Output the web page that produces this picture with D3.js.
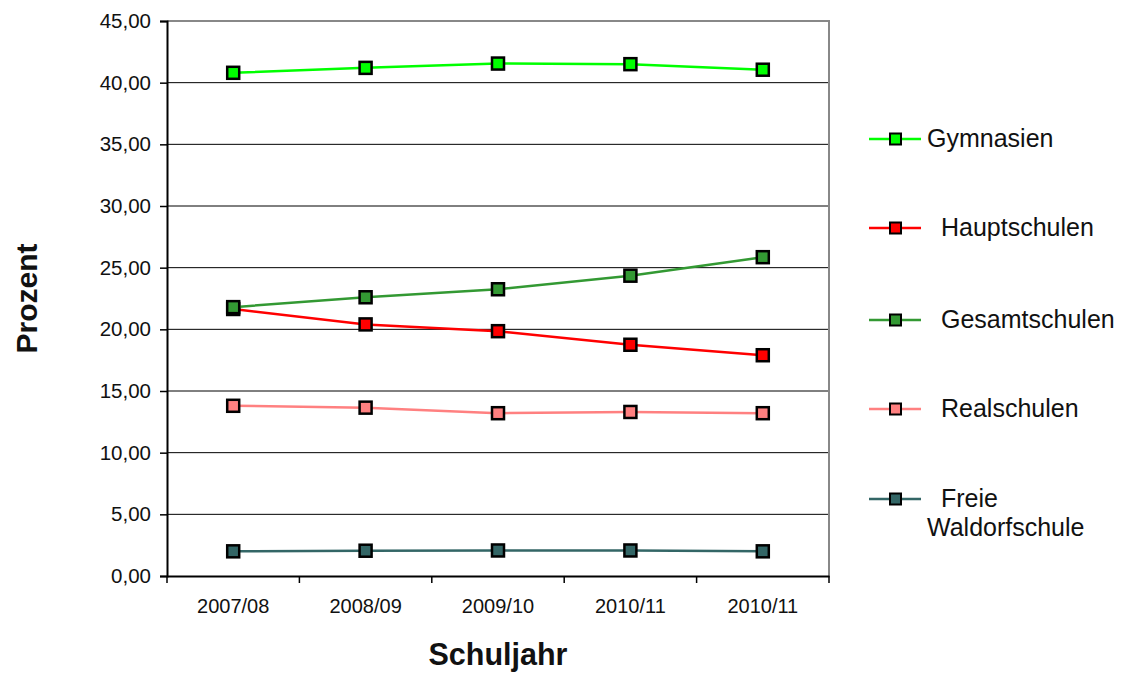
<!DOCTYPE html>
<html>
<head>
<meta charset="utf-8">
<script src="https://cdn.jsdelivr.net/npm/d3@7"></script>
<style>
  body { margin: 0; background: #fff; }
  svg { font-family: 'Liberation Sans', Arial, sans-serif; }
</style>
</head>
<body>
<script>
'use strict';

var years = ['2007/08', '2008/09', '2009/10', '2010/11', '2010/11'];
var yTicks = [0, 5, 10, 15, 20, 25, 30, 35, 40, 45];

var gymnasien     = [40.8, 41.2, 41.55, 41.5, 41.05];
var hauptschulen  = [21.65, 20.4, 19.85, 18.75, 17.9];
var gesamtschulen = [21.8, 22.6, 23.25, 24.35, 25.85];
var realschulen   = [13.8, 13.65, 13.2, 13.3, 13.2];
var waldorf       = [2.0, 2.05, 2.07, 2.07, 2.0];

var seriesNames = ['Gymnasien', 'Hauptschulen', 'Gesamtschulen', 'Realschulen', 'Freie Waldorfschule'];
var seriesColors = ['#00ff00', '#ff0000', '#339933', '#ff8080', '#336666'];
var seriesValues = [gymnasien, hauptschulen, gesamtschulen, realschulen, waldorf];

var width = 1128, height = 673;
var plot = {left: 167, right: 829, top: 21, bottom: 576};
var font = "'Liberation Sans', Arial, sans-serif";

var svg = d3.select('body').append('svg')
    .attr('width', width)
    .attr('height', height);

// band scale for the categories, point positions at the band centres
var x = d3.scaleBand()
    .domain(d3.range(years.length))
    .range([plot.left, plot.right]);

var y = d3.scaleLinear()
    .domain([0, 45])
    .range([plot.bottom, plot.top]);

var fmt = function(d) { return d3.format('.2f')(d).replace('.', ','); };

// grid lines
svg.append('g')
  .selectAll('line')
  .data(yTicks.filter(function(d) { return d > 0 && d < 45; }))
  .enter().append('line')
    .attr('x1', plot.left).attr('x2', plot.right)
    .attr('y1', function(d) { return y(d); })
    .attr('y2', function(d) { return y(d); })
    .attr('stroke', '#000')
    .attr('stroke-width', 1);

// frame (top + right in grey)
svg.append('path')
    .attr('d', 'M' + plot.left + ',' + y(45) + 'H' + plot.right + 'V' + plot.bottom)
    .attr('fill', 'none')
    .attr('stroke', '#888')
    .attr('stroke-width', 2);

// y axis
var yAxis = svg.append('g')
    .attr('transform', 'translate(' + plot.left + ',0)')
    .call(d3.axisLeft(y).tickValues(yTicks).tickFormat(fmt).tickSize(7).tickPadding(9));
yAxis.attr('font-size', null).attr('font-family', null);
yAxis.select('.domain').attr('stroke', '#000').attr('stroke-width', 2);
yAxis.selectAll('.tick line').attr('stroke', '#000').attr('stroke-width', 1.5);
yAxis.selectAll('text')
    .style('font-size', '20.5px')
    .style('font-family', font)
    .attr('fill', '#111');

// x axis
var xAxis = svg.append('g')
    .attr('transform', 'translate(0,' + plot.bottom + ')')
    .call(d3.axisBottom(x).tickSize(0).tickPadding(23).tickFormat(function(i) { return years[i]; }));
xAxis.attr('font-size', null).attr('font-family', null);
xAxis.select('.domain').attr('stroke', '#000').attr('stroke-width', 2);
xAxis.selectAll('text')
    .style('font-size', '20px')
    .style('font-family', font)
    .attr('fill', '#111');
xAxis.selectAll('line.sep')
  .data(d3.range(years.length + 1))
  .enter().append('line')
    .attr('class', 'sep')
    .attr('x1', function(i) { return plot.left + i * x.step(); })
    .attr('x2', function(i) { return plot.left + i * x.step(); })
    .attr('y1', 0).attr('y2', 7)
    .attr('stroke', '#000')
    .attr('stroke-width', 1.5);

// axis titles
svg.append('text')
    .attr('x', (plot.left + plot.right) / 2)
    .attr('y', 665)
    .attr('text-anchor', 'middle')
    .style('font-size', '30.5px')
    .attr('font-weight', 'bold')
    .attr('fill', '#111')
    .text('Schuljahr');

svg.append('text')
    .attr('transform', 'translate(37,' + (plot.top + plot.bottom) / 2 + ') rotate(-90)')
    .attr('text-anchor', 'middle')
    .style('font-size', '30px')
    .attr('font-weight', 'bold')
    .attr('fill', '#111')
    .text('Prozent');

// series
var line = d3.line()
    .x(function(d, i) { return x(i) + x.bandwidth() / 2; })
    .y(function(d) { return y(d); });

var series = svg.append('g').selectAll('g')
  .data(seriesValues)
  .enter().append('g');

series.append('path')
    .attr('d', line)
    .attr('fill', 'none')
    .attr('stroke', function(d, i) { return seriesColors[i]; })
    .attr('stroke-width', 2.5);

series.selectAll('rect')
  .data(function(d, i) { return d.map(function(v, j) { return {v: v, j: j, c: seriesColors[i]}; }); })
  .enter().append('rect')
    .attr('x', function(d) { return x(d.j) + x.bandwidth() / 2 - 6; })
    .attr('y', function(d) { return y(d.v) - 6; })
    .attr('width', 12).attr('height', 12)
    .attr('fill', function(d) { return d.c; })
    .attr('stroke', '#000')
    .attr('stroke-width', 2.5);

// legend
var legendY = [139, 228, 320, 409, 499];
var legendTextX = [927, 941, 941, 941, 941];

var legend = svg.append('g').selectAll('g')
  .data(seriesNames)
  .enter().append('g')
    .attr('transform', function(d, i) { return 'translate(0,' + legendY[i] + ')'; });

legend.append('line')
    .attr('x1', 869).attr('x2', 921)
    .attr('stroke', function(d, i) { return seriesColors[i]; })
    .attr('stroke-width', 2.5);

legend.append('rect')
    .attr('x', 890).attr('y', -5.5)
    .attr('width', 11).attr('height', 11)
    .attr('fill', function(d, i) { return seriesColors[i]; })
    .attr('stroke', '#000')
    .attr('stroke-width', 2);

legend.append('text')
    .attr('y', 8)
    .style('font-size', '25px')
    .attr('fill', '#111')
    .each(function(d, i) {
      var t = d3.select(this);
      if (d === 'Freie Waldorfschule') {
        t.append('tspan').attr('x', legendTextX[i]).text('Freie');
        t.append('tspan').attr('x', 927).attr('dy', 29).text('Waldorfschule');
      } else {
        t.attr('x', legendTextX[i]).text(d);
      }
    });
</script>
</body>
</html>
